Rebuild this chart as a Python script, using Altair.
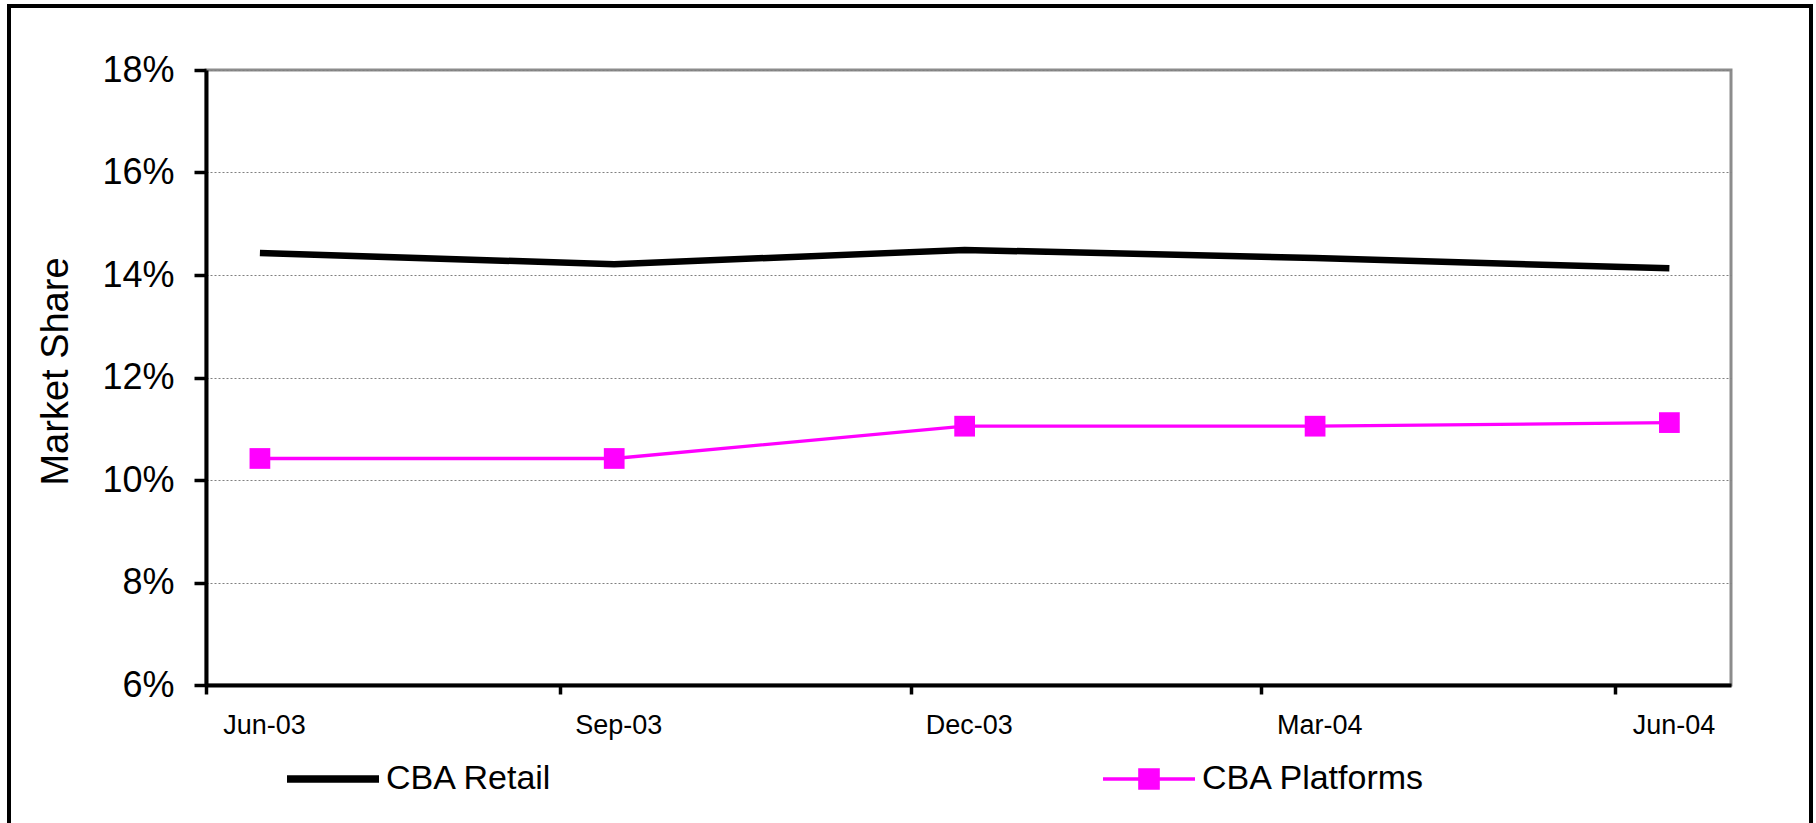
import altair as alt
import pandas as pd

# Quarterly market share, June 2003 to June 2004
periods = ["Jun-03", "Sep-03", "Dec-03", "Mar-04", "Jun-04"]
obs_dates = ["2003-06-15", "2003-09-15", "2003-12-15", "2004-03-15", "2004-06-15"]
retail = [0.1443, 0.1421, 0.1449, 0.1433, 0.1413]
platforms = [0.1042, 0.1042, 0.1105, 0.1105, 0.1112]

series_names = ["CBA Retail", "CBA Platforms"]
series_colors = ["#000000", "#ff00ff"]
y_ticks = [0.06, 0.08, 0.10, 0.12, 0.14, 0.16, 0.18]

# quarter starts used as axis ticks, axis runs one month past the last one
tick_months = [(2003, 6), (2003, 9), (2003, 12), (2004, 3), (2004, 6)]
axis_end = (2004, 7)

rows = []
for name, vals in zip(series_names, [retail, platforms]):
    for p, d, v in zip(periods, obs_dates, vals):
        rows.append({"series": name, "period": p, "date": d, "share": v})
df = pd.DataFrame(rows)

FONT = "Liberation Sans"


def dt(ym):
    return alt.DateTime(year=ym[0], month=ym[1], date=1, utc=True)


x_enc = alt.X(
    "date:T",
    scale=alt.Scale(type="utc", domain=[dt(tick_months[0]), dt(axis_end)]),
    axis=alt.Axis(
        values=[dt(m) for m in tick_months],
        labelExpr="utcFormat(datum.value, '%b-%y')",
        title=None,
        grid=False,
        labelFont=FONT,
        labelFontSize=27,
        labelColor="black",
        labelBaseline="alphabetic",
        labelPadding=39,
        labelOffset=58,
        labelFlush=False,
        labelOverlap=False,
        labelBound=False,
        tickSize=9,
        tickWidth=3.5,
        tickColor="black",
        domainColor="black",
        domainWidth=4,
    ),
)

y_enc = alt.Y(
    "share:Q",
    scale=alt.Scale(domain=[0.06, 0.18], nice=False, zero=False),
    axis=alt.Axis(
        values=y_ticks,
        format=".0%",
        title="Market Share",
        titleFont=FONT,
        titleFontSize=38,
        titleFontWeight="normal",
        titleColor="black",
        titleAngle=-90,
        titleBaseline="alphabetic",
        titleAlign="center",
        titleX=-139,
        titleY=301,
        labelFont=FONT,
        labelFontSize=36,
        labelColor="black",
        labelPadding=20,
        tickSize=12,
        tickWidth=3.5,
        tickColor="black",
        domainColor="black",
        domainWidth=4,
        grid=True,
        gridColor="#808080",
        gridDash=[2, 2],
        gridWidth=1,
    ),
)

# outer frame around the whole figure
frame = alt.Chart(alt.Data(values=[{}])).mark_rect(
    filled=False, color="black", strokeWidth=4
).encode(
    x=alt.value(-197), x2=alt.value(1605), y=alt.value(-64), y2=alt.value(760)
)

retail_line = alt.Chart(df).transform_filter(
    alt.datum.series == series_names[0]
).mark_line(color=series_colors[0], strokeWidth=6.5).encode(x=x_enc, y=y_enc)

platform_line = alt.Chart(df).transform_filter(
    alt.datum.series == series_names[1]
).mark_line(color=series_colors[1], strokeWidth=3.3).encode(x=x_enc, y=y_enc)

platform_pts = alt.Chart(df).transform_filter(
    alt.datum.series == series_names[1]
).mark_point(
    shape="square", filled=True, size=430, color=series_colors[1], opacity=1
).encode(x=x_enc, y=y_enc)

# legend glyphs: a thick bar for the retail line, a thin bar with a square for platforms
legend_paths = [
    "M-1,-0.08H1V0.08H-1Z",
    "M-1,-0.036H1V0.036H-1Z M-0.235,-0.235H0.235V0.235H-0.235Z",
]
legend_cfg = dict(
    title=None,
    orient="none",
    legendX=81,
    legendY=663,
    direction="horizontal",
    columns=2,
    columnPadding=550,
    padding=0,
    labelFont=FONT,
    labelFontSize=34,
    labelColor="black",
    labelOffset=7,
    labelLimit=0,
    symbolSize=8464,
    symbolStrokeWidth=0,
    symbolOpacity=1,
)

legend_layer = alt.Chart(df).mark_point(filled=True, opacity=0).encode(
    x=x_enc,
    y=y_enc,
    color=alt.Color(
        "series:N",
        scale=alt.Scale(domain=series_names, range=series_colors),
        legend=alt.Legend(**legend_cfg),
    ),
    shape=alt.Shape(
        "series:N",
        scale=alt.Scale(domain=series_names, range=legend_paths),
        legend=alt.Legend(**legend_cfg),
    ),
)

chart = alt.layer(
    frame, retail_line, platform_line, platform_pts, legend_layer
).properties(
    width=1525,
    height=615,
    autosize=alt.AutoSizeParams(type="none"),
    padding={"left": 206, "top": 70, "right": 85, "bottom": 138},
    background="white",
).configure_view(
    stroke="#8c8c8c", strokeWidth=3
)

chart.save("out.html", embed_options={"renderer": "svg", "actions": False})
